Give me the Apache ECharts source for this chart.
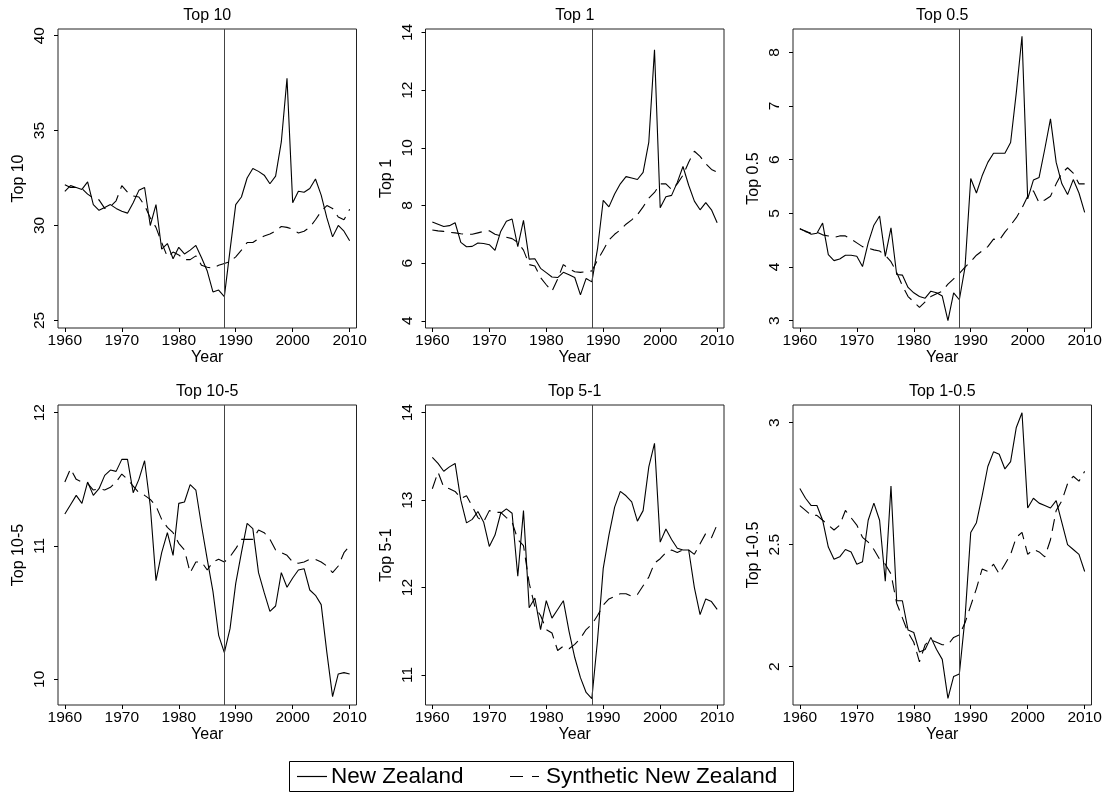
<!DOCTYPE html>
<html>
<head>
<meta charset="utf-8">
<script src="https://cdn.jsdelivr.net/npm/echarts@6/dist/echarts.min.js"></script>
<style>
html,body{margin:0;padding:0;background:#fff;}
#chart{width:1109px;height:803px;}
</style>
</head>
<body>
<div id="chart"></div>
<script>
// ---------- DATA ----------
const years = [];
for (let y = 1960; y <= 2010; y++) years.push(y);

const panelTitles = ["Top 10", "Top 1", "Top 0.5", "Top 10-5", "Top 5-1", "Top 1-0.5"];
const xTicks = [1960, 1970, 1980, 1990, 2000, 2010];
const yTicks = [
  [25, 30, 35, 40],
  [4, 6, 8, 10, 12, 14],
  [3, 4, 5, 6, 7, 8],
  [10, 11, 12],
  [11, 12, 13, 14],
  [2, 2.5, 3]
];
const treatmentYear = 1988;
const seriesNames = ["New Zealand", "Synthetic New Zealand"];

const nzTop10 = [31.8,32.1,32.0,31.9,32.3,31.1,30.8,30.95,31.1,30.9,
  30.75,30.65,31.2,31.85,32.0,30.0,31.1,28.75,29.05,28.25,
  28.85,28.5,28.7,28.95,28.3,27.6,26.5,26.6,26.25,28.7,
  31.1,31.5,32.5,33.0,32.85,32.65,32.2,32.6,34.4,37.75,
  31.2,31.8,31.75,31.95,32.45,31.6,30.4,29.4,30.0,29.7,29.2];
const synTop10 = [32.15,32.0,32.0,31.95,31.65,31.45,31.35,30.9,31.0,31.3,
  32.1,31.75,31.55,31.5,31.05,30.4,29.9,29.1,28.35,28.6,
  28.45,28.2,28.2,28.4,27.9,27.8,27.75,27.9,28.0,28.1,
  28.35,28.7,29.1,29.1,29.3,29.45,29.55,29.7,29.95,29.9,
  29.8,29.6,29.7,29.9,30.3,30.75,31.05,30.9,30.45,30.3,30.85];

const nzTop1 = [7.43,7.35,7.27,7.3,7.4,6.72,6.57,6.58,6.7,6.68,
  6.64,6.44,7.1,7.45,7.53,6.57,7.48,6.14,6.15,5.82,
  5.67,5.52,5.5,5.68,5.6,5.5,4.9,5.47,5.35,6.5,
  8.18,7.95,8.4,8.75,9.0,8.95,8.9,9.15,10.2,13.4,
  7.92,8.3,8.35,8.8,9.35,8.7,8.15,7.85,8.1,7.85,7.4];
const synTop1 = [7.15,7.12,7.1,7.07,7.05,7.02,7.0,7.0,7.05,7.1,
  7.12,7.0,6.95,6.9,6.85,6.72,6.45,5.95,5.9,5.5,
  5.25,5.02,5.45,5.95,5.8,5.7,5.68,5.7,5.73,6.1,
  6.45,6.8,7.0,7.15,7.35,7.5,7.68,7.95,8.25,8.45,
  8.75,8.75,8.55,8.75,9.05,9.5,9.88,9.7,9.45,9.25,9.15];

const nzTop05 = [4.71,4.67,4.61,4.63,4.82,4.23,4.12,4.15,4.22,4.22,
  4.2,4.01,4.45,4.78,4.95,4.2,4.73,3.86,3.85,3.62,
  3.52,3.45,3.42,3.55,3.52,3.46,3.0,3.52,3.39,4.0,
  5.65,5.38,5.7,5.95,6.12,6.12,6.12,6.32,7.25,8.3,
  5.27,5.62,5.67,6.2,6.76,5.95,5.55,5.35,5.63,5.38,5.02];
const synTop05 = [4.72,4.66,4.63,4.65,4.6,4.58,4.55,4.58,4.58,4.52,
  4.45,4.38,4.35,4.32,4.3,4.22,4.1,3.9,3.65,3.45,
  3.35,3.25,3.35,3.45,3.5,3.55,3.68,3.78,3.88,4.0,
  4.1,4.22,4.3,4.38,4.52,4.5,4.65,4.78,4.92,5.1,
  5.32,5.42,5.2,5.25,5.32,5.55,5.75,5.85,5.75,5.55,5.55];

const nzTop10_5 = [11.24,11.31,11.38,11.32,11.48,11.38,11.43,11.53,11.57,11.56,
  11.65,11.65,11.4,11.5,11.64,11.3,10.74,10.95,11.1,10.93,
  11.32,11.33,11.46,11.42,11.15,10.9,10.66,10.33,10.2,10.38,
  10.72,10.95,11.17,11.13,10.8,10.65,10.51,10.55,10.8,10.69,
  10.76,10.82,10.83,10.67,10.63,10.56,10.2,9.87,10.04,10.05,10.04];
const synTop10_5 = [11.48,11.58,11.5,11.48,11.47,11.42,11.43,11.42,11.44,11.48,
  11.54,11.5,11.45,11.4,11.38,11.35,11.3,11.2,11.14,11.1,
  11.02,10.97,10.8,10.88,10.88,10.82,10.88,10.9,10.88,10.92,
  10.98,11.05,11.05,11.05,11.12,11.1,11.05,10.97,10.95,10.93,
  10.88,10.87,10.88,10.9,10.9,10.88,10.85,10.8,10.85,10.95,11.0];

const nzTop5_1 = [13.49,13.42,13.33,13.38,13.42,13.0,12.74,12.78,12.87,12.75,
  12.47,12.6,12.85,12.9,12.85,12.13,12.88,11.77,11.88,11.52,
  11.85,11.65,11.75,11.85,11.5,11.2,10.97,10.8,10.73,11.4,
  12.22,12.6,12.92,13.1,13.05,12.98,12.76,12.88,13.38,13.65,
  12.52,12.67,12.55,12.45,12.43,12.43,12.0,11.69,11.87,11.84,11.75];
const synTop5_1 = [13.13,13.32,13.15,13.13,13.1,13.02,13.05,12.93,12.8,12.75,
  12.88,12.86,12.86,12.8,12.75,12.55,12.48,12.05,11.78,11.68,
  11.52,11.48,11.28,11.33,11.3,11.35,11.42,11.52,11.58,11.68,
  11.8,11.87,11.9,11.93,11.93,11.9,11.92,12.02,12.12,12.28,
  12.33,12.4,12.43,12.4,12.43,12.43,12.38,12.5,12.62,12.57,12.72];

const nzTop1_05 = [2.73,2.69,2.66,2.66,2.6,2.49,2.44,2.45,2.48,2.47,
  2.42,2.43,2.6,2.67,2.6,2.35,2.74,2.27,2.27,2.15,
  2.14,2.06,2.07,2.12,2.07,2.03,1.87,1.96,1.97,2.2,
  2.55,2.59,2.7,2.82,2.88,2.87,2.81,2.84,2.98,3.04,
  2.65,2.69,2.67,2.66,2.65,2.68,2.59,2.5,2.48,2.46,2.39];
const synTop1_05 = [2.66,2.64,2.62,2.62,2.6,2.58,2.56,2.58,2.64,2.61,
  2.58,2.53,2.51,2.48,2.44,2.42,2.38,2.26,2.2,2.14,
  2.1,2.02,2.09,2.11,2.1,2.09,2.09,2.12,2.13,2.18,
  2.25,2.32,2.4,2.39,2.42,2.38,2.42,2.46,2.53,2.55,
  2.46,2.48,2.47,2.45,2.52,2.64,2.68,2.75,2.78,2.76,2.8];

const actualSeries = [nzTop10, nzTop1, nzTop05, nzTop10_5, nzTop5_1, nzTop1_05];
const syntheticSeries = [synTop10, synTop1, synTop05, synTop10_5, synTop5_1, synTop1_05];

// ---------- LAYOUT / STYLE ----------
const FONT = "'Liberation Sans', Arial, Helvetica, sans-serif";
const DASH = [12, 7];
const colLefts = [58, 425.5, 793];
const rowTops = [29, 405];
const rowHeights = [299, 300];
const gridWidth = 298.5;
const xRange = [1958.8, 2011.2];
const yRanges = [
  [24.6, 40.35],
  [3.75, 14.12],
  [2.864, 8.436],
  [9.807, 12.058],
  [10.657, 14.088],
  [1.843, 3.072]
];

const grids = [], xAxes = [], yAxes = [], series = [], graphics = [];
for (let i = 0; i < 6; i++) {
  const r = Math.floor(i / 3), c = i % 3;
  const left = colLefts[c], top = rowTops[r], h = rowHeights[r];
  grids.push({left: left, top: top, width: gridWidth, height: h,
    show: true, borderColor: '#222', borderWidth: 1, backgroundColor: '#fff', containLabel: false});
  xAxes.push({
    type: 'value', gridIndex: i, min: xRange[0], max: xRange[1],
    name: 'Year', nameLocation: 'middle', nameGap: 21,
    nameTextStyle: {fontFamily: FONT, fontSize: 16, color: '#000'},
    axisLine: {show: false},
    axisTick: {show: true, length: 4, inside: false, customValues: xTicks, lineStyle: {color: '#000'}},
    axisLabel: {show: true, customValues: xTicks, margin: 5, fontFamily: FONT, fontSize: 15.5, color: '#000',
      formatter: function (v) { return String(v); }},
    splitLine: {show: false}
  });
  yAxes.push({
    type: 'value', gridIndex: i, min: yRanges[i][0], max: yRanges[i][1],
    name: panelTitles[i], nameLocation: 'middle', nameGap: 31, nameRotate: 90,
    nameTextStyle: {fontFamily: FONT, fontSize: 16, color: '#000'},
    axisLine: {show: false},
    axisTick: {show: true, length: 4, inside: false, customValues: yTicks[i], lineStyle: {color: '#000'}},
    axisLabel: {show: true, customValues: yTicks[i], rotate: 90, margin: 10, fontFamily: FONT, fontSize: 15.5, color: '#000',
      formatter: function (v) { return String(v); }},
    splitLine: {show: false}
  });
  series.push({
    name: seriesNames[0], type: 'line', xAxisIndex: i, yAxisIndex: i,
    data: years.map((y, k) => [y, actualSeries[i][k]]),
    showSymbol: false, symbol: 'none',
    lineStyle: {color: '#000', width: 1.1, type: 'solid'},
    itemStyle: {color: '#000'},
    markLine: {
      silent: true, symbol: 'none', label: {show: false},
      lineStyle: {color: '#444', width: 1, type: 'solid'},
      data: [{xAxis: treatmentYear}]
    },
    z: 3
  });
  series.push({
    name: seriesNames[1], type: 'line', xAxisIndex: i, yAxisIndex: i,
    data: years.map((y, k) => [y, syntheticSeries[i][k]]),
    showSymbol: false, symbol: 'none',
    lineStyle: {color: '#000', width: 1.1, type: DASH},
    itemStyle: {color: '#000'},
    z: 2
  });
  graphics.push({
    type: 'text', x: left + gridWidth / 2, y: top - 13,
    style: {text: panelTitles[i], font: '16px ' + FONT, fill: '#000',
      textAlign: 'center', textVerticalAlign: 'middle'}
  });
}

// legend drawn as a framed key
const legY = 776.5;
graphics.push(
  {type: 'rect', shape: {x: 289.5, y: 761.5, width: 504, height: 30},
    style: {fill: '#fff', stroke: '#000', lineWidth: 1}},
  {type: 'line', shape: {x1: 297, y1: legY, x2: 327, y2: legY},
    style: {stroke: '#000', lineWidth: 1.2}},
  {type: 'text', x: 331, y: legY, style: {text: seriesNames[0], font: '22.5px ' + FONT, fill: '#000',
    textAlign: 'left', textVerticalAlign: 'middle'}},
  {type: 'line', shape: {x1: 510, y1: legY, x2: 539, y2: legY},
    style: {stroke: '#000', lineWidth: 1.2, lineDash: [13, 9]}},
  {type: 'text', x: 546, y: legY, style: {text: seriesNames[1], font: '22.5px ' + FONT, fill: '#000',
    textAlign: 'left', textVerticalAlign: 'middle'}}
);

const chart = echarts.init(document.getElementById('chart'), null, {renderer: 'canvas'});
chart.setOption({
  animation: false,
  backgroundColor: '#fff',
  grid: grids,
  xAxis: xAxes,
  yAxis: yAxes,
  series: series,
  graphic: graphics
});
</script>
</body>
</html>
